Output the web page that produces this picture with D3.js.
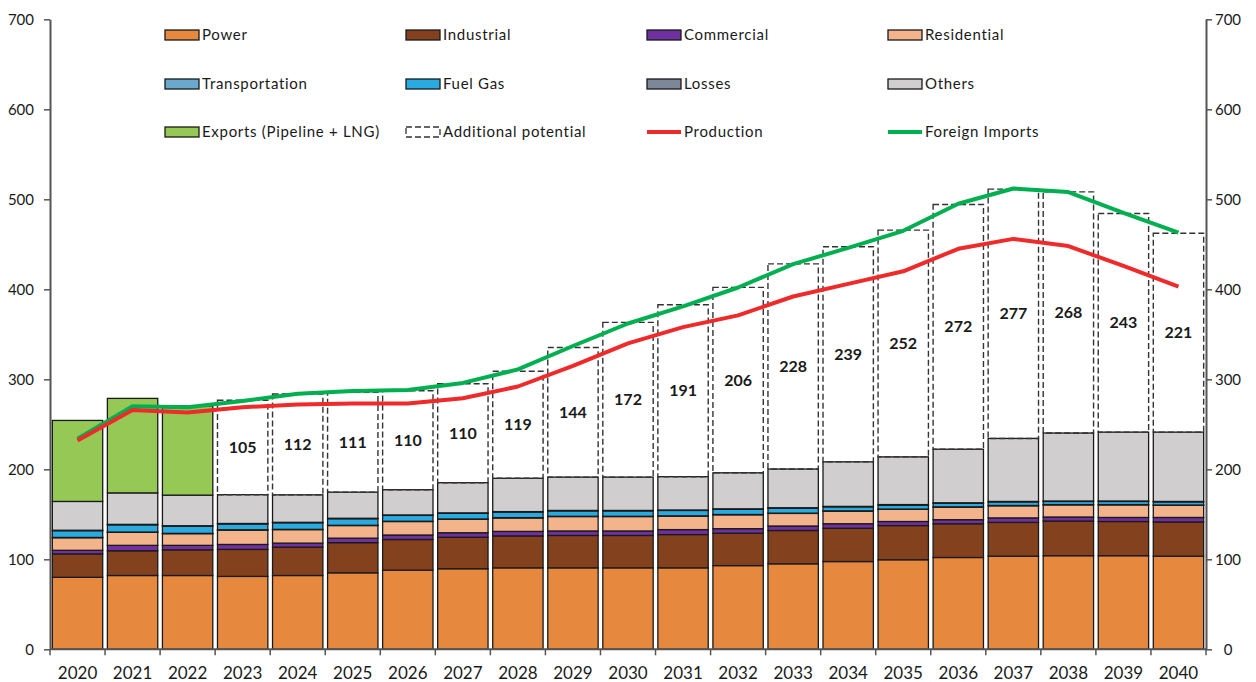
<!DOCTYPE html>
<html>
<head>
<meta charset="utf-8">
<script src="https://cdn.jsdelivr.net/npm/d3@7"></script>
<style>
  html, body { margin: 0; padding: 0; background: #fff; }
  svg { display: block; font-family: Lato, "Open Sans", sans-serif; }
</style>
</head>
<body>
<svg id="chart" width="1256" height="682"></svg>
<script>
// Gas demand by sector (stacked), with additional potential and supply lines
const years = ["2020","2021","2022","2023","2024","2025","2026","2027","2028","2029","2030",
               "2031","2032","2033","2034","2035","2036","2037","2038","2039","2040"];

const power          = [80, 82, 82, 81, 82, 85, 88, 89.5, 90.5, 90.5, 90.5, 90.5, 93, 95, 97.5, 99.5, 102, 103.5, 104, 104, 103.5];
const industrial     = [26, 27.5, 28.5, 30, 31.5, 33.5, 34, 35, 35.5, 36, 36, 37, 36, 37, 37, 38, 37.5, 37.5, 38.5, 38, 38];
const commercial     = [4, 6, 5, 5.5, 4.5, 5, 5, 5, 5, 5, 5, 5.5, 5, 5, 5, 4.5, 4.5, 5, 4.5, 4.5, 5];
const residential    = [14, 14.5, 13, 16, 15, 14, 15, 15, 15, 16, 16, 15, 15.5, 14, 14, 13.5, 14, 13.5, 13.5, 14, 13.5];
const transportation = [0.3, 0.3, 0.3, 0.3, 0.3, 0.3, 0.3, 0.3, 0.3, 0.3, 0.3, 0.3, 0.3, 0.3, 0.3, 0.3, 0.3, 0.3, 0.3, 0.3, 0.3];
const fuelGas        = [7.5, 8, 8, 6.5, 7.3, 7.3, 6.5, 6.3, 6.2, 6, 6, 6, 5.8, 5.5, 4.5, 4.5, 4, 4, 3.5, 3.5, 3.5];
const losses         = [0.5, 0.5, 0.5, 0.5, 0.5, 0.5, 0.5, 0.5, 0.5, 0.5, 0.5, 0.5, 0.5, 0.5, 0.5, 0.5, 0.5, 0.5, 0.5, 0.5, 0.5];
const others         = [32, 35, 34, 32, 30.5, 29, 28, 33.5, 37, 37, 37, 37, 40, 43, 49.5, 53, 59.5, 70, 75.5, 76.5, 77];
const exportsLNG     = [90, 105, 99, 0, 0, 0, 0, 0, 0, 0, 0, 0, 0, 0, 0, 0, 0, 0, 0, 0, 0];
const additional     = [null, null, null, 105, 112, 111, 110, 110, 119, 144, 172, 191, 206, 228, 239, 252, 272, 277, 268, 243, 221];
const production     = [232, 266, 263, 269, 272, 273, 273, 279, 292, 315, 340, 358, 371, 392, 406, 420, 445, 456, 448, 426, 403];
const imports        = [234, 270, 269, 276, 284, 287, 288, 296, 311, 337, 362, 381, 402, 428, 446, 465, 495, 512, 508, 485, 463];
const yTicks         = [0, 100, 200, 300, 400, 500, 600, 700];

const seriesKeys   = ["Power","Industrial","Commercial","Residential","Transportation","Fuel Gas","Losses","Others","Exports (Pipeline + LNG)"];
const seriesArrays = [power, industrial, commercial, residential, transportation, fuelGas, losses, others, exportsLNG];
const seriesColors = ["#E6893F","#83411E","#7030A0","#F3B48B","#6AA8CE","#29ABE2","#7C8898","#D0CECE","#95C855"];

const rows = years.map((yr, i) => {
  const r = { year: yr };
  seriesKeys.forEach((k, j) => r[k] = seriesArrays[j][i]);
  return r;
});

const svg = d3.select("#chart");
const plotLeft = 50, plotRight = 1206, plotTop = 19.3, plotBottom = 649.3;

const x = d3.scaleBand().domain(years).range([plotLeft, plotRight]).paddingInner(0.085).paddingOuter(0.0425);
const y = d3.scaleLinear().domain([0, 700]).range([plotBottom, plotTop]);
const step = x.step();

const layers = d3.stack().keys(seriesKeys)(rows);

// stacked bars
const g = svg.append("g");
layers.forEach((layer, li) => {
  g.selectAll(null)
    .data(layer.filter(d => d[1] - d[0] > 0))
    .enter().append("rect")
    .attr("x", d => x(d.data.year))
    .attr("width", x.bandwidth())
    .attr("y", d => y(d[1]))
    .attr("height", d => y(d[0]) - y(d[1]))
    .attr("fill", seriesColors[li])
    .attr("stroke", "#1a1a1a")
    .attr("stroke-width", 1.3);
});

// additional potential (dashed boxes above the demand stack)
const othersTop = layers[7];
const addData = years.map((yr, i) => ({ year: yr, base: othersTop[i][1], add: additional[i] }))
  .filter(d => d.add != null);

g.selectAll(null).data(addData).enter().append("rect")
  .attr("x", d => x(d.year))
  .attr("width", x.bandwidth())
  .attr("y", d => y(d.base + d.add))
  .attr("height", d => y(d.base) - y(d.base + d.add))
  .attr("fill", "none")
  .attr("stroke", "#333")
  .attr("stroke-width", 1.4)
  .attr("stroke-dasharray", "6,3");

g.selectAll(null).data(addData).enter().append("text")
  .attr("x", d => x(d.year) + x.bandwidth() / 2)
  .attr("y", d => y(d.base + d.add / 2))
  .attr("dy", "0.35em")
  .attr("text-anchor", "middle")
  .attr("font-weight", "bold")
  .attr("font-size", 16)
  .attr("fill", "#1a1a1a")
  .text(d => d.add);

// supply lines
const lineGen = d3.line()
  .x((d, i) => x(years[i]) + x.bandwidth() / 2)
  .y(d => y(d));

svg.append("path").datum(imports)
  .attr("d", lineGen).attr("fill", "none")
  .attr("stroke", "#00B050").attr("stroke-width", 4).attr("stroke-linejoin", "round");
svg.append("path").datum(production)
  .attr("d", lineGen).attr("fill", "none")
  .attr("stroke", "#EE2A2A").attr("stroke-width", 4).attr("stroke-linejoin", "round");

// axes
const axisColor = "#555";
const leftAxis = svg.append("g").attr("transform", `translate(${plotLeft},0)`)
  .call(d3.axisLeft(y).tickValues(yTicks).tickSize(6).tickSizeOuter(0).tickPadding(10));
const rightAxis = svg.append("g").attr("transform", `translate(${plotRight},0)`)
  .call(d3.axisRight(y).tickValues(yTicks).tickSize(6).tickSizeOuter(0).tickPadding(10));
[leftAxis, rightAxis].forEach(a => {
  a.select(".domain").attr("stroke", axisColor).attr("stroke-width", 2);
  a.selectAll(".tick line").attr("stroke", axisColor).attr("stroke-width", 1.5);
  a.selectAll("text").attr("font-size", 15).attr("fill", "#1a1a1a").attr("font-family", "Lato, sans-serif");
});
rightAxis.selectAll("text").attr("text-anchor", "middle").attr("x", 22);

// bottom axis line, boundary ticks and year labels
const bx = svg.append("g");
bx.append("line").attr("x1", plotLeft).attr("x2", plotRight).attr("y1", plotBottom).attr("y2", plotBottom)
  .attr("stroke", axisColor).attr("stroke-width", 2);
const boundaries = years.map(yr => x(yr) - step * x.paddingInner() / 2).concat([plotRight]);
bx.selectAll(null).data(boundaries).enter().append("line")
  .attr("x1", d => d).attr("x2", d => d).attr("y1", plotBottom).attr("y2", plotBottom + 6)
  .attr("stroke", axisColor).attr("stroke-width", 1.5);
bx.selectAll(null).data(years).enter().append("text")
  .attr("x", d => x(d) + x.bandwidth() / 2)
  .attr("y", 679)
  .attr("text-anchor", "middle")
  .attr("font-size", 17)
  .attr("fill", "#1a1a1a")
  .text(d => d);

// legend
const legendItems = [
  { label: "Power", type: "box", color: seriesColors[0] },
  { label: "Industrial", type: "box", color: seriesColors[1] },
  { label: "Commercial", type: "box", color: seriesColors[2] },
  { label: "Residential", type: "box", color: seriesColors[3] },
  { label: "Transportation", type: "box", color: seriesColors[4] },
  { label: "Fuel Gas", type: "box", color: seriesColors[5] },
  { label: "Losses", type: "box", color: seriesColors[6] },
  { label: "Others", type: "box", color: seriesColors[7] },
  { label: "Exports (Pipeline + LNG)", type: "box", color: seriesColors[8] },
  { label: "Additional potential", type: "dash" },
  { label: "Production", type: "line", color: "#EE2A2A" },
  { label: "Foreign Imports", type: "line", color: "#00B050" }
];
const colX = [165, 406, 647, 888];
const rowY = [35, 84, 132];
const lg = svg.append("g");
legendItems.forEach((it, i) => {
  const cx = colX[i % 4], cy = rowY[Math.floor(i / 4)];
  const item = lg.append("g");
  if (it.type === "box") {
    item.append("rect").attr("x", cx).attr("y", cy - 5).attr("width", 34).attr("height", 10)
      .attr("fill", it.color).attr("stroke", "#1a1a1a").attr("stroke-width", 1.3);
  } else if (it.type === "dash") {
    item.append("rect").attr("x", cx).attr("y", cy - 5).attr("width", 34).attr("height", 10)
      .attr("fill", "none").attr("stroke", "#333").attr("stroke-width", 1.3).attr("stroke-dasharray", "6,3");
  } else {
    item.append("line").attr("x1", cx).attr("x2", cx + 34).attr("y1", cy).attr("y2", cy)
      .attr("stroke", it.color).attr("stroke-width", 4);
  }
  item.append("text").attr("x", cx + 37).attr("y", cy).attr("dy", "0.35em")
    .attr("font-size", 15).attr("letter-spacing", 0.7).attr("fill", "#1a1a1a").text(it.label);
});
</script>
</body>
</html>
